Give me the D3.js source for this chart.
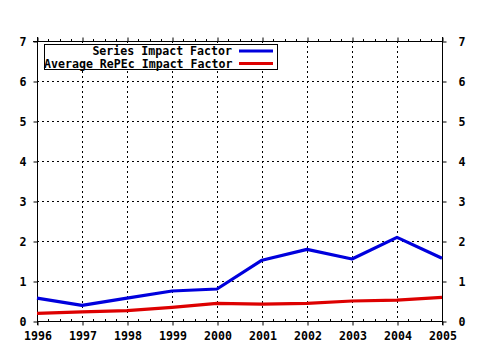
<!DOCTYPE html>
<html><head><meta charset="utf-8">
<script src="https://cdn.jsdelivr.net/npm/d3@7"></script>
<style>html,body{margin:0;padding:0;background:#fff;}svg{display:block;}</style>
</head><body>
<svg id="c" width="480" height="350"></svg>
<script>
const years = [1996,1997,1998,1999,2000,2001,2002,2003,2004,2005];
const seriesIF = [0.57,0.39,0.57,0.75,0.80,1.52,1.79,1.55,2.09,1.57];
const repecIF = [0.19,0.23,0.26,0.34,0.44,0.42,0.44,0.50,0.52,0.59];
const yTicks = [0,1,2,3,4,5,6,7];
const seriesNames = ["Series Impact Factor","Average RePEc Impact Factor"];
const seriesColors = ["#0000dd","#dd0000"];

const svg = d3.select("#c");
const L=37, R=442, T=41, B=321;
const x = d3.scaleLinear().domain([1996,2005]).range([L,R]);
const y = d3.scaleLinear().domain([0,7]).range([B,T]);
const font = "'DejaVu Sans Mono', monospace";
const fs = "11.6px";

// grid
const g = svg.append("g");
g.selectAll(".gx").data(years.slice(1,-1)).join("line")
  .attr("x1",d=>x(d)+0.5).attr("x2",d=>x(d)+0.5).attr("y1",T).attr("y2",B)
  .attr("stroke","#000").attr("stroke-width",1).attr("stroke-dasharray","2,3");
g.selectAll(".gy").data(yTicks.slice(1,-1)).join("line")
  .attr("y1",d=>y(d)+0.5).attr("y2",d=>y(d)+0.5).attr("x1",L).attr("x2",R)
  .attr("stroke","#000").attr("stroke-width",1).attr("stroke-dasharray","2,3");

// minor ticks (quarter-year)
const minor = d3.range(1996,2005.001,0.25).filter(v=>Math.abs(v-Math.round(v))>0.01);
g.selectAll(".mt").data(minor).join("line")
  .attr("x1",d=>Math.round(x(d))+0.5).attr("x2",d=>Math.round(x(d))+0.5).attr("y1",T-2).attr("y2",T)
  .attr("stroke","#000");
g.selectAll(".mb").data(minor).join("line")
  .attr("x1",d=>Math.round(x(d))+0.5).attr("x2",d=>Math.round(x(d))+0.5).attr("y1",B-2).attr("y2",B)
  .attr("stroke","#000");

// axes
const axB = d3.axisBottom(x).tickValues(years).tickFormat(d3.format("d")).tickSize(4).tickPadding(6);
const axT = d3.axisTop(x).tickValues(years).tickFormat("").tickSize(4);
const axL = d3.axisLeft(y).tickValues(yTicks).tickFormat(d3.format("d")).tickSize(4).tickPadding(7);
const axR = d3.axisRight(y).tickValues(yTicks).tickFormat(d3.format("d")).tickSize(4).tickPadding(12);
function style(sel){
  sel.select(".domain").remove();
  sel.selectAll("text").attr("font-family",font).attr("font-weight","bold").attr("font-size",fs).attr("fill","#000");
}
svg.append("g").attr("transform",`translate(0.5,${B+0.5})`).call(axB).call(style);
svg.append("g").attr("transform",`translate(0.5,${T+0.5})`).call(axT).call(style);
svg.append("g").attr("transform",`translate(${L+0.5},0.5)`).call(axL).call(style);
svg.append("g").attr("transform",`translate(${R+0.5},0.5)`).call(axR).call(style);
// axis lines
svg.append("line").attr("x1",L-4).attr("x2",R+1).attr("y1",T+0.5).attr("y2",T+0.5).attr("stroke","#000");
svg.append("line").attr("x1",L).attr("x2",R+1).attr("y1",B+0.5).attr("y2",B+0.5).attr("stroke","#000");
svg.append("line").attr("x1",L+0.5).attr("x2",L+0.5).attr("y1",T-4).attr("y2",B+4).attr("stroke","#000");
svg.append("line").attr("x1",R+0.5).attr("x2",R+0.5).attr("y1",T-4).attr("y2",B+4).attr("stroke","#000");

// lines
const line = d3.line().x((d,i)=>x(years[i])).y(d=>y(d));
[seriesIF,repecIF].forEach((s,k)=>{
  svg.append("path").datum(s).attr("d",line).attr("fill","none")
    .attr("stroke",seriesColors[k]).attr("stroke-width",3.2).attr("stroke-linejoin","round");
});

// legend
const lg = svg.append("g");
lg.append("rect").attr("x",44.5).attr("y",44.5).attr("width",233).attr("height",25)
  .attr("fill","#fff").attr("stroke","#000");
const rows = [51,63.5];
seriesNames.forEach((n,k)=>{
  const t = lg.append("text").attr("y",rows[k]+4).text(n)
    .attr("font-family",font).attr("font-weight","bold").attr("font-size",fs);
  if(k===0) t.attr("x",232).attr("text-anchor","end");
  else t.attr("x",44);
  lg.append("line").attr("x1",239).attr("x2",273).attr("y1",rows[k]).attr("y2",rows[k])
    .attr("stroke",seriesColors[k]).attr("stroke-width",3);
});
</script>
</body></html>
